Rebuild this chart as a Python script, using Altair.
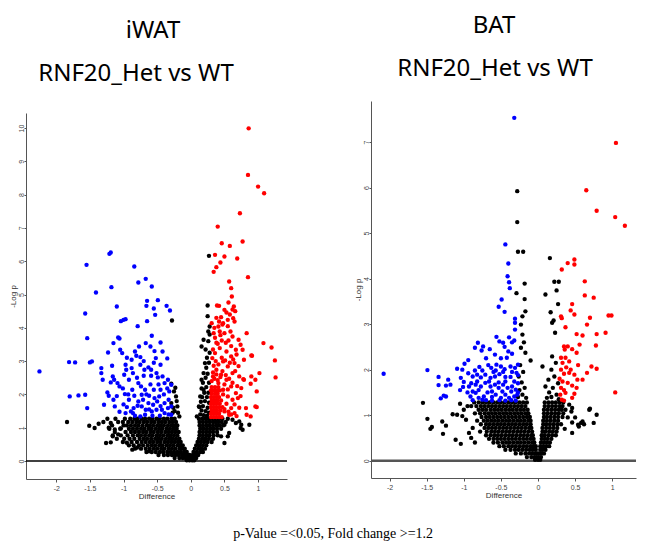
import altair as alt
import pandas as pd

# ---------------- text ----------------
TITLE_LEFT = ["iWAT", "RNF20_Het vs WT"]
TITLE_RIGHT = ["BAT", "RNF20_Het vs WT"]
CAPTION = "p-Value =<0.05, Fold  change >=1.2"
X_TITLE = "Difference"
Y_TITLE = "-Log p"

X_TICKS = [-2, -1.5, -1, -0.5, 0, 0.5, 1]
Y_TICKS_LEFT = [0, 1, 2, 3, 4, 5, 6, 7, 8, 9, 10]
Y_TICKS_RIGHT = [0, 1, 2, 3, 4, 5, 6, 7]

X_DOMAIN_LEFT = [-2.45, 1.43]
Y_DOMAIN_LEFT = [-0.54, 10.45]
X_DOMAIN_RIGHT = [-2.25, 1.32]
Y_DOMAIN_RIGHT = [-0.38, 7.9]

# ---------------- iWAT (left) data: (difference, -log p) ----------------
L_BLUE = [
    (-1.21, 6.22), (-1.19, 6.26), (-1.55, 5.89), (-0.84, 5.84), (-0.78, 5.36), (-0.67, 5.47), (-0.58, 5.24),
    (-1.18, 5.22), (-1.41, 5.06), (-0.65, 4.81), (-0.66, 4.66), (-0.49, 4.83), (-0.55, 4.58), (-0.36, 4.66),
    (-0.31, 4.52), (-0.53, 4.39), (-1.10, 4.64), (-1.57, 4.43), (-1.04, 4.20), (-1.00, 4.24), (-0.97, 4.26),
    (-0.79, 4.05), (-0.65, 4.20), (-1.54, 3.69), (-1.08, 3.71), (-1.06, 3.68), (-1.15, 3.54), (-0.58, 3.76),
    (-0.67, 3.54), (-0.45, 3.56), (-0.77, 3.44), (-0.60, 3.44), (-1.23, 3.26), (-1.05, 3.34), (-1.02, 3.24),
    (-0.83, 3.29), (-0.81, 3.16), (-0.88, 3.04), (-0.75, 3.12), (-0.54, 3.30), (-0.42, 3.29), (-0.52, 3.09),
    (-0.35, 3.08), (-0.45, 2.89), (-1.81, 2.97), (-1.72, 2.96), (-1.50, 2.96), (-1.47, 2.99), (-2.25, 2.69),
    (-1.33, 2.79), (-1.33, 2.64), (-1.31, 2.44), (-1.17, 2.86), (-1.16, 2.54), (-1.14, 2.44), (-1.19, 2.36),
    (-0.97, 2.89), (-0.96, 2.74), (-0.88, 2.79), (-0.86, 2.64), (-0.99, 2.59), (-0.92, 2.44), (-1.06, 2.24),
    (-1.01, 2.18), (-0.98, 2.01), (-0.87, 2.14), (-0.84, 1.96), (-0.75, 2.89), (-0.69, 2.74), (-0.70, 2.56),
    (-0.78, 2.34), (-0.74, 2.24), (-0.63, 2.81), (-0.59, 2.74), (-0.59, 2.56), (-0.51, 2.64), (-0.49, 2.51),
    (-0.42, 2.54), (-0.34, 2.44), (-0.39, 2.34), (-0.35, 2.18), (-0.45, 2.14), (-0.55, 2.14), (-0.68, 2.14),
    (-0.73, 1.99), (-0.62, 1.96), (-0.54, 1.89), (-0.47, 1.94), (-0.39, 1.74), (-0.34, 1.59), (-0.43, 1.54),
    (-0.51, 1.54), (-0.58, 1.49), (-0.67, 1.54), (-0.73, 1.64), (-0.79, 1.66), (-0.85, 1.59), (-0.89, 1.49),
    (-0.97, 1.44), (-1.06, 1.48), (-1.13, 1.64), (-1.15, 1.84), (-1.22, 1.96), (-1.29, 1.69), (-1.24, 2.06),
    (-0.68, 1.39), (-0.83, 1.36), (-0.75, 1.34), (-0.57, 1.36), (-0.46, 1.36), (-0.39, 1.44), (-0.29, 2.29),
    (-0.32, 2.09), (-0.33, 1.84), (-1.80, 1.94), (-1.67, 1.97), (-1.57, 1.99), (-1.54, 1.59), (-0.92, 1.84),
    (-0.78, 1.79), (-0.63, 1.74), (-0.50, 1.79), (-0.56, 1.69), (-0.71, 1.84), (-0.86, 1.44), (-0.29, 1.64),
    (-0.29, 1.39), (-1.09, 2.34), (-0.60, 2.30), (-0.48, 2.30), (-0.66, 2.00), (-0.93, 2.00), (-1.10, 1.95),
    (-1.00, 1.70), (-0.40, 2.00), (-0.62, 1.55), (-0.45, 1.65), (-0.33, 1.40), (-0.95, 1.62), (-0.80, 2.50),
    (-0.55, 2.95), (-0.70, 3.00), (-0.95, 3.10),
]

L_RED = [
    (0.86, 9.99), (0.85, 8.59), (1.00, 8.24), (1.09, 8.04), (0.73, 7.44), (0.40, 7.04), (0.77, 6.59),
    (0.46, 6.54), (0.58, 6.46), (0.36, 6.19), (0.50, 6.14), (0.69, 6.08), (0.44, 5.96), (0.38, 5.82),
    (0.34, 5.68), (0.85, 5.52), (0.57, 5.39), (0.60, 5.19), (0.61, 4.94), (0.56, 4.76), (0.64, 4.64),
    (0.66, 4.50), (0.39, 4.67), (0.42, 4.66), (0.50, 4.54), (0.53, 4.46), (0.45, 4.32), (0.42, 4.19),
    (0.41, 4.04), (0.48, 4.14), (0.55, 4.24), (0.63, 4.29), (0.65, 4.19), (0.31, 4.14), (0.34, 3.84),
    (0.43, 3.89), (0.50, 3.84), (0.59, 3.89), (0.62, 3.74), (0.71, 3.64), (0.74, 3.49), (0.67, 3.34),
    (0.77, 3.34), (0.83, 3.84), (1.08, 3.54), (1.20, 3.41), (1.25, 3.02), (1.26, 2.51), (0.91, 3.16),
    (0.79, 3.04), (0.65, 2.94), (0.60, 3.14), (0.53, 3.29), (0.43, 3.39), (0.36, 3.24), (0.32, 3.09),
    (0.48, 2.99), (0.55, 2.84), (0.62, 2.64), (0.72, 2.54), (0.79, 2.44), (0.90, 2.54), (0.96, 2.44),
    (1.02, 2.64), (0.98, 2.09), (0.89, 2.32), (0.75, 2.19), (0.67, 2.04), (0.60, 2.24), (0.53, 2.44),
    (0.45, 2.59), (0.38, 2.74), (0.33, 2.54), (0.41, 2.34), (0.48, 2.14), (0.55, 1.94), (0.62, 1.84),
    (0.70, 1.89), (0.82, 1.59), (0.83, 1.39), (0.89, 1.34), (0.98, 1.62), (0.96, 1.64), (0.60, 1.59),
    (0.57, 1.39), (0.50, 1.49), (0.65, 1.44), (0.78, 2.46), (0.90, 3.17), (0.31, 2.40), (0.35, 2.47),
    (0.40, 2.43), (0.44, 2.52), (0.33, 2.66), (0.38, 2.60), (0.47, 2.70), (0.52, 2.58), (0.57, 2.47),
    (0.50, 2.30), (0.55, 2.15), (0.48, 2.00), (0.53, 1.72), (0.50, 1.56), (0.56, 1.48), (0.34, 2.86),
    (0.41, 2.90), (0.37, 3.00), (0.46, 3.10), (0.51, 3.02), (0.58, 2.95), (0.63, 3.05), (0.33, 3.35),
    (0.40, 3.52), (0.46, 3.62), (0.52, 3.55), (0.36, 3.70), (0.44, 3.78), (0.56, 3.62), (0.60, 3.45),
    (0.68, 3.20), (0.66, 2.70), (0.71, 2.85), (0.62, 2.35), (0.69, 2.25), (0.74, 1.95), (0.65, 1.70),
    (0.72, 1.60), (0.60, 1.40), (0.68, 1.35), (0.38, 4.30), (0.47, 4.10), (0.35, 4.00), (0.58, 4.40),
    (0.62, 4.55), (0.55, 4.05), (0.38, 3.55),
]

# dense red block just right of the fold-change cut (rows: -log p, differences)
L_RED_ROWS = [
    (1.32, [0.30, 0.34, 0.38, 0.42, 0.46]), (1.42, [0.30, 0.34, 0.38, 0.42]),
    (1.52, [0.31, 0.35, 0.39, 0.44]), (1.62, [0.30, 0.34, 0.38, 0.42, 0.47]),
    (1.72, [0.30, 0.34, 0.38, 0.43]), (1.82, [0.31, 0.35, 0.40, 0.45]),
    (1.92, [0.30, 0.34, 0.38, 0.42]), (2.02, [0.31, 0.36, 0.40]),
    (2.12, [0.30, 0.34, 0.38, 0.43]), (2.22, [0.31, 0.36, 0.41]),
]

L_BLACK = [
    (-1.84, 1.17), (-1.51, 1.06), (-1.43, 0.99), (-1.37, 1.12), (-1.19, 0.56), (-0.28, 4.22), (0.27, 6.16),
    (0.25, 4.67), (0.28, 4.04), (0.26, 3.89), (0.19, 3.64), (0.16, 3.44), (0.21, 2.94), (0.19, 2.64),
    (0.23, 2.80), (0.16, 2.44), (0.19, 2.14), (0.14, 1.94), (0.12, 1.64), (0.09, 1.34),
    (-0.29, 2.32), (-0.22, 1.94), (-0.25, 2.09), (-0.29, 1.74), (-0.20, 1.64), (-0.17, 1.34), (-0.24, 1.50),
    (-0.27, 1.45), (-0.21, 1.80), (-0.26, 1.60), (-0.23, 2.20), (-0.19, 1.45),
    (0.14, 1.40), (0.19, 1.38), (0.24, 1.36), (0.27, 1.45), (0.16, 1.52), (0.22, 1.50), (0.13, 1.62),
    (0.18, 1.65), (0.25, 1.60), (0.27, 1.75), (0.15, 1.78), (0.21, 1.80), (0.17, 1.92), (0.24, 1.92),
    (0.20, 2.05), (0.26, 2.05), (0.16, 2.18), (0.23, 2.22), (0.27, 2.35), (0.18, 2.35), (0.22, 2.50),
    (0.25, 2.62), (0.27, 2.95), (0.24, 3.10), (0.28, 3.25), (0.22, 3.35), (0.26, 3.60), (0.28, 3.80),
    (0.25, 4.35),
    (0.62, 1.24), (0.67, 1.14), (0.74, 0.99), (0.87, 1.09), (0.45, 0.74), (0.50, 0.54), (0.50, 1.09),
    (0.57, 0.84), (0.55, 0.74), (0.72, 1.19), (0.75, 1.09), (0.77, 0.94),
    (-1.26, 0.54), (-1.16, 0.74), (-1.13, 0.95), (-1.19, 1.14), (-1.04, 0.98), (-0.87, 0.34), (-0.80, 0.40),
    (-0.62, 0.29), (-0.95, 0.55), (-1.08, 0.80), (-1.22, 1.00),
]

L_BLACK_ROWS = [
    (1.27, [-1.24, -1.12, -0.98, -0.90, -0.84, -0.79, -0.73, -0.68, -0.62, -0.57, -0.51, -0.46, -0.40, -0.35, -0.29, -0.24,
            0.12, 0.17, 0.22, 0.26, 0.30, 0.34, 0.38, 0.42, 0.47, 0.55]),
    (1.17, [-1.30, -1.08, -1.01, -0.93, -0.87, -0.81, -0.76, -0.70, -0.65, -0.59, -0.54, -0.48, -0.43, -0.38, -0.32, -0.27, -0.22,
            0.13, 0.18, 0.23, 0.28, 0.33, 0.37, 0.41, 0.46, 0.52]),
    (1.07, [-1.17, -1.00, -0.95, -0.89, -0.83, -0.78, -0.72, -0.66, -0.61, -0.56, -0.50, -0.45, -0.40, -0.34, -0.29, -0.24, -0.20,
            0.13, 0.18, 0.23, 0.28, 0.33, 0.38, 0.43, 0.48]),
    (0.97, [-1.21, -1.05, -0.92, -0.86, -0.80, -0.74, -0.69, -0.63, -0.58, -0.52, -0.47, -0.42, -0.36, -0.31, -0.26, -0.21,
            0.14, 0.19, 0.24, 0.29, 0.34, 0.39, 0.45]),
    (0.87, [-1.13, -0.97, -0.89, -0.83, -0.77, -0.71, -0.66, -0.60, -0.55, -0.49, -0.44, -0.38, -0.33, -0.28, -0.23, -0.18,
            0.13, 0.18, 0.23, 0.28, 0.33, 0.39]),
    (0.77, [-1.16, -1.04, -0.94, -0.86, -0.79, -0.74, -0.68, -0.62, -0.57, -0.51, -0.46, -0.41, -0.35, -0.30, -0.25, -0.20,
            0.13, 0.18, 0.23, 0.28, 0.34, 0.40]),
    (0.67, [-1.10, -0.99, -0.91, -0.84, -0.76, -0.70, -0.65, -0.59, -0.53, -0.48, -0.43, -0.37, -0.32, -0.27, -0.22, -0.17,
            0.12, 0.17, 0.22, 0.27, 0.33]),
    (0.57, [-1.01, -0.88, -0.80, -0.73, -0.67, -0.61, -0.56, -0.50, -0.45, -0.39, -0.34, -0.29, -0.24, -0.19, -0.15,
            0.10, 0.15, 0.20, 0.25, 0.31]),
    (0.47, [-0.92, -0.85, -0.77, -0.71, -0.64, -0.58, -0.53, -0.47, -0.42, -0.36, -0.31, -0.26, -0.20, -0.15, -0.12,
            0.08, 0.13, 0.18, 0.23]),
    (0.37, [-0.83, -0.74, -0.67, -0.61, -0.55, -0.50, -0.44, -0.39, -0.33, -0.28, -0.23, -0.17, -0.13, -0.09,
            0.06, 0.11, 0.16, 0.21]),
    (0.27, [-0.66, -0.58, -0.52, -0.46, -0.41, -0.35, -0.30, -0.25, -0.20, -0.15, -0.10, -0.06,
            0.04, 0.09, 0.14, 0.18]),
    (0.18, [-0.48, -0.40, -0.34, -0.28, -0.23, -0.18, -0.13, -0.09, -0.05, -0.02, 0.03, 0.07, 0.11]),
    (0.09, [-0.24, -0.17, -0.12, -0.08, -0.04, -0.01, 0.02, 0.05, 0.08]),
    (0.02, [-0.06, -0.02, 0.02, 0.05]),
]

# ---------------- BAT (right) data ----------------
R_BLUE = [
    (-0.32, 7.53), (-0.44, 4.75), (-0.40, 4.33), (-0.41, 4.05), (-0.39, 3.92), (-0.38, 3.79), (-0.49, 3.54),
    (-0.53, 3.38), (-0.45, 3.27), (-0.31, 3.12), (-0.31, 3.03), (-0.31, 2.88), (-0.56, 2.72), (-0.52, 2.62),
    (-0.47, 2.59), (-0.39, 2.71), (-0.35, 2.60), (-0.32, 2.64), (-0.81, 2.59), (-0.74, 2.51), (-0.85, 2.48),
    (-0.76, 2.42), (-0.40, 2.40), (-0.42, 2.26), (-0.58, 2.33), (-0.94, 2.21), (-0.99, 2.13), (-1.09, 2.02),
    (-1.02, 2.00), (-1.49, 1.99), (-2.08, 1.91), (-0.79, 2.06), (-0.67, 2.10), (-0.63, 2.04), (-0.56, 2.11),
    (-0.50, 2.07), (-0.45, 2.01), (-0.37, 2.07), (-0.31, 2.04), (-0.27, 2.11), (-0.29, 1.93), (-0.88, 1.85),
    (-0.82, 1.89), (-0.77, 1.83), (-0.71, 1.89), (-0.64, 1.82), (-0.58, 1.85), (-0.52, 1.90), (-0.44, 1.84),
    (-0.37, 1.84), (-0.32, 1.74), (-1.04, 1.82), (-1.00, 1.73), (-1.01, 1.62), (-0.93, 1.63), (-0.84, 1.67),
    (-0.77, 1.63), (-0.71, 1.71), (-0.64, 1.63), (-0.58, 1.67), (-0.53, 1.60), (-0.47, 1.67), (-0.41, 1.60),
    (-0.35, 1.63), (-0.30, 1.56), (-1.34, 1.84), (-1.34, 1.66), (-1.21, 1.78), (-1.18, 1.67), (-1.24, 1.65),
    (-1.31, 1.37), (-1.27, 1.43), (-1.24, 1.41), (-0.91, 1.41), (-0.84, 1.49), (-0.80, 1.38), (-0.73, 1.41),
    (-0.68, 1.50), (-0.62, 1.40), (-0.57, 1.45), (-0.50, 1.38), (-0.44, 1.45), (-0.39, 1.38), (-0.32, 1.41),
    (-0.75, 1.34), (-0.62, 1.32), (-0.44, 1.32), (-0.30, 1.32), (-0.88, 1.33), (-0.70, 1.33), (-0.52, 1.33),
    (-0.36, 1.33), (-0.28, 1.45), (-0.88, 1.52), (-0.80, 1.55), (-0.62, 1.52), (-0.48, 1.52), (-0.36, 1.52),
    (-0.27, 1.50), (-0.90, 1.70), (-0.82, 1.74), (-0.66, 1.74), (-0.53, 1.72), (-0.44, 1.74), (-0.27, 1.70),
    (-0.94, 1.92), (-0.60, 1.95), (-0.47, 1.95), (-0.27, 1.88), (-0.85, 1.98), (-0.75, 1.98), (-0.57, 1.98),
    (-0.35, 1.95), (-0.95, 1.50), (-1.05, 1.55), (-0.70, 2.25), (-0.50, 2.25), (-0.35, 2.35), (-0.65, 2.45),
    (-0.45, 2.50),
]

R_RED = [
    (1.05, 6.98), (0.65, 5.94), (0.79, 5.49), (1.04, 5.35), (1.17, 5.16), (1.04, 1.50), (0.40, 4.34),
    (0.49, 4.42), (0.49, 4.31), (0.32, 4.20), (0.63, 3.94), (0.63, 3.63), (0.75, 3.58), (0.46, 3.44),
    (0.44, 3.30), (0.49, 3.21), (0.31, 3.17), (0.32, 3.13), (0.70, 3.14), (0.66, 2.99), (0.95, 3.19),
    (0.99, 3.19), (0.52, 2.78), (0.60, 2.75), (0.79, 2.78), (0.91, 2.81), (0.37, 2.93), (0.56, 2.55),
    (0.78, 2.53), (0.35, 2.51), (0.40, 2.51), (0.36, 2.44), (0.46, 2.45), (0.52, 2.37), (0.31, 2.26),
    (0.37, 2.26), (0.42, 2.18), (0.33, 2.15), (0.54, 2.10), (0.72, 2.07), (0.79, 2.02), (0.31, 2.00),
    (0.35, 1.91), (0.42, 1.93), (0.49, 1.89), (0.53, 1.78), (0.60, 1.78), (0.66, 1.93), (0.33, 1.74),
    (0.40, 1.71), (0.46, 1.65), (0.52, 1.60), (0.31, 1.60), (0.35, 1.55), (0.37, 1.49), (0.49, 1.47),
    (0.46, 1.38), (0.32, 1.34), (0.35, 1.32), (0.30, 1.45), (0.29, 1.80), (0.38, 2.05), (0.44, 2.00),
]

R_BLACK = [
    (-0.28, 5.92), (-0.28, 5.24), (-0.27, 4.59), (-0.20, 4.59), (0.16, 4.45), (-0.18, 3.89), (-0.29, 3.68),
    (-0.18, 3.55), (0.10, 3.65), (0.22, 3.93), (0.28, 3.93), (0.25, 3.74), (0.27, 3.44), (0.17, 3.26),
    (0.19, 3.03), (0.21, 3.08), (-0.21, 3.17), (-0.17, 3.28), (-0.23, 2.99), (0.23, 2.81), (-0.21, 2.77),
    (-0.19, 2.60), (-0.23, 2.48), (-0.17, 2.37), (-0.10, 2.20), (0.06, 2.07), (0.19, 2.29), (0.24, 2.15),
    (0.18, 2.00), (0.10, 1.63), (0.14, 1.78), (0.22, 1.85), (0.27, 1.70), (0.15, 1.50), (0.20, 1.60),
    (0.25, 1.45), (0.12, 1.38), (0.18, 1.40), (0.28, 1.35), (-0.24, 2.10), (-0.20, 1.95), (-0.26, 1.85),
    (-0.22, 1.72), (-0.18, 1.60), (-0.25, 1.55), (-0.21, 1.45), (-0.16, 1.38), (-0.27, 1.40),
    (-1.55, 1.27), (-1.49, 0.92), (-1.43, 0.74), (-1.45, 0.70), (-1.29, 0.86), (-1.28, 0.59), (-1.24, 0.77),
    (-1.11, 0.46), (-1.04, 0.37), (-1.09, 1.01), (-1.15, 1.02), (-1.02, 0.98), (-0.97, 0.90), (-0.93, 0.61),
    (-0.88, 0.72), (-1.00, 1.12), (-0.95, 1.20), (-1.05, 1.25), (-0.90, 0.50), (-0.85, 0.40),
    (0.37, 1.12), (0.46, 1.16), (0.58, 0.83), (0.62, 0.80), (0.69, 1.12), (0.75, 0.83), (0.79, 1.01),
    (0.46, 0.61), (0.55, 0.75), (0.70, 1.14), (0.60, 0.86), (0.54, 0.79), (0.45, 1.08), (0.42, 1.23),
    (0.46, 0.84), (0.50, 0.95), (0.40, 0.95), (0.36, 0.70),
]

R_BLACK_ROWS = [
    (1.28, [-0.86, -0.80, -0.75, -0.70, -0.65, -0.60, -0.55, -0.50, -0.45, -0.40, -0.35, -0.30, -0.25, -0.20, -0.15,
            0.09, 0.14, 0.19, 0.24, 0.29, 0.34]),
    (1.20, [-0.90, -0.83, -0.77, -0.72, -0.67, -0.62, -0.57, -0.52, -0.47, -0.42, -0.37, -0.32, -0.27, -0.22, -0.17,
            0.09, 0.14, 0.19, 0.24, 0.29, 0.33]),
    (1.12, [-0.80, -0.75, -0.70, -0.64, -0.59, -0.54, -0.49, -0.44, -0.39, -0.34, -0.29, -0.24, -0.19, -0.14,
            0.08, 0.13, 0.18, 0.23, 0.28, 0.32]),
    (1.04, [-0.85, -0.78, -0.72, -0.67, -0.62, -0.57, -0.52, -0.47, -0.42, -0.37, -0.32, -0.27, -0.22, -0.17, -0.13,
            0.08, 0.13, 0.18, 0.23, 0.28, 0.34]),
    (0.96, [-0.76, -0.70, -0.65, -0.60, -0.55, -0.50, -0.45, -0.40, -0.35, -0.30, -0.25, -0.20, -0.15, -0.11,
            0.08, 0.12, 0.17, 0.22, 0.27, 0.33]),
    (0.88, [-0.82, -0.73, -0.68, -0.63, -0.58, -0.53, -0.48, -0.43, -0.38, -0.33, -0.28, -0.23, -0.18, -0.13, -0.10,
            0.07, 0.12, 0.17, 0.22, 0.27]),
    (0.80, [-0.77, -0.70, -0.65, -0.60, -0.55, -0.50, -0.45, -0.40, -0.35, -0.30, -0.25, -0.20, -0.15, -0.10,
            0.07, 0.11, 0.16, 0.21, 0.26, 0.31]),
    (0.72, [-0.72, -0.67, -0.62, -0.57, -0.52, -0.47, -0.42, -0.37, -0.32, -0.27, -0.22, -0.17, -0.12, -0.09,
            0.06, 0.11, 0.16, 0.21, 0.26]),
    (0.64, [-0.78, -0.69, -0.63, -0.58, -0.53, -0.48, -0.43, -0.38, -0.33, -0.28, -0.23, -0.18, -0.13, -0.08,
            0.06, 0.10, 0.15, 0.20, 0.25]),
    (0.56, [-0.70, -0.64, -0.59, -0.54, -0.49, -0.44, -0.39, -0.34, -0.29, -0.24, -0.19, -0.14, -0.09, -0.07,
            0.05, 0.09, 0.14, 0.19, 0.24]),
    (0.48, [-0.66, -0.60, -0.55, -0.50, -0.45, -0.40, -0.35, -0.30, -0.25, -0.20, -0.15, -0.10, -0.06,
            0.05, 0.09, 0.13, 0.18]),
    (0.40, [-0.60, -0.54, -0.48, -0.43, -0.38, -0.33, -0.28, -0.23, -0.18, -0.13, -0.08, -0.05,
            0.04, 0.08, 0.12, 0.16]),
    (0.32, [-0.52, -0.46, -0.40, -0.35, -0.30, -0.25, -0.20, -0.15, -0.10, -0.06, -0.03,
            0.03, 0.07, 0.11, 0.15]),
    (0.24, [-0.44, -0.37, -0.31, -0.26, -0.21, -0.16, -0.11, -0.07, -0.03, 0.03, 0.06, 0.10]),
    (0.16, [-0.30, -0.23, -0.17, -0.12, -0.08, -0.04, -0.01, 0.02, 0.05, 0.08]),
    (0.08, [-0.15, -0.09, -0.05, -0.02, 0.01, 0.04]),
    (0.02, [-0.04, 0.00, 0.03]),
]

GROUPS = ["ns", "down", "up"]
COLORS = ["#000000", "#0000ff", "#ff0000"]


def rows_to_points(rows):
    return [(x, y) for y, xs in rows for x in xs]


def build_frame(black, blue, red):
    recs = [{"x": x, "y": y, "g": "ns"} for x, y in black]
    recs += [{"x": x, "y": y, "g": "down"} for x, y in blue]
    recs += [{"x": x, "y": y, "g": "up"} for x, y in red]
    return pd.DataFrame(recs)


df_left = build_frame(L_BLACK + rows_to_points(L_BLACK_ROWS), L_BLUE, L_RED + rows_to_points(L_RED_ROWS))
df_right = build_frame(R_BLACK + rows_to_points(R_BLACK_ROWS), R_BLUE, R_RED)

AX_FONT = "Liberation Sans"


def panel(df, xdom, ydom, yticks, w, h, zero_color, zero_width):
    x_axis = alt.Axis(values=X_TICKS, title=X_TITLE, labelExpr="datum.value + ''", grid=False,
                      labelFont=AX_FONT, titleFont=AX_FONT, labelFontSize=7, titleFontSize=8,
                      titleFontWeight="normal", labelColor="#444444", titleColor="#333333",
                      tickSize=3, tickColor="#555555", domainColor="#555555", labelPadding=2,
                      titlePadding=1)
    y_axis = alt.Axis(values=yticks, title=Y_TITLE, grid=False, labelAngle=-90,
                      labelFont=AX_FONT, titleFont=AX_FONT, labelFontSize=7, titleFontSize=8,
                      titleFontWeight="normal", labelColor="#444444", titleColor="#333333",
                      tickSize=2, tickColor="#555555", domainColor="#555555", labelPadding=0,
                      titlePadding=0)
    xs = alt.Scale(domain=xdom, nice=False, zero=False)
    ys = alt.Scale(domain=ydom, nice=False, zero=False)
    zero = alt.Chart(pd.DataFrame({"v": [0]})).mark_rule(color=zero_color, strokeWidth=zero_width).encode(
        y=alt.Y("v:Q", scale=ys, axis=y_axis)
    )
    pts = alt.Chart(df).mark_circle(size=19, opacity=1).encode(
        x=alt.X("x:Q", scale=xs, axis=x_axis),
        y=alt.Y("y:Q", scale=ys, axis=y_axis),
        color=alt.Color("g:N", scale=alt.Scale(domain=GROUPS, range=COLORS), legend=None),
    )
    return alt.layer(zero, pts).properties(width=w, height=h)


def header(lines, w, h):
    layers = []
    for text, cx, cy in lines:
        layers.append(
            alt.Chart(pd.DataFrame({"t": [text]})).mark_text(
                font="Noto Sans", fontSize=24, color="#000000", align="center", baseline="middle"
            ).encode(text="t:N", x=alt.value(cx), y=alt.value(cy))
        )
    return alt.layer(*layers).properties(width=w, height=h)


WL, HL = 261, 366
WR, HR = 265, 377

head_left = header([(TITLE_LEFT[0], 127, 22), (TITLE_LEFT[1], 110, 65)], WL, 102)
head_right = header([(TITLE_RIGHT[0], 123, 17), (TITLE_RIGHT[1], 124, 60)], WR, 90)

col_left = alt.vconcat(head_left, panel(df_left, X_DOMAIN_LEFT, Y_DOMAIN_LEFT, Y_TICKS_LEFT, WL, HL, "#000000", 1.5), spacing=0)
col_right = alt.vconcat(head_right, panel(df_right, X_DOMAIN_RIGHT, Y_DOMAIN_RIGHT, Y_TICKS_RIGHT, WR, HR, "#555555", 2.5), spacing=0)

chart = alt.hconcat(col_left, col_right, spacing=64).properties(
    padding=0,
    title=alt.TitleParams(CAPTION, orient="bottom", anchor="middle", font="Liberation Serif", fontSize=14,
                          fontWeight="normal", color="#000000", offset=26, dx=10),
).configure_view(stroke="transparent")

chart.save("out.html", embed_options={"renderer": "svg", "actions": False})
